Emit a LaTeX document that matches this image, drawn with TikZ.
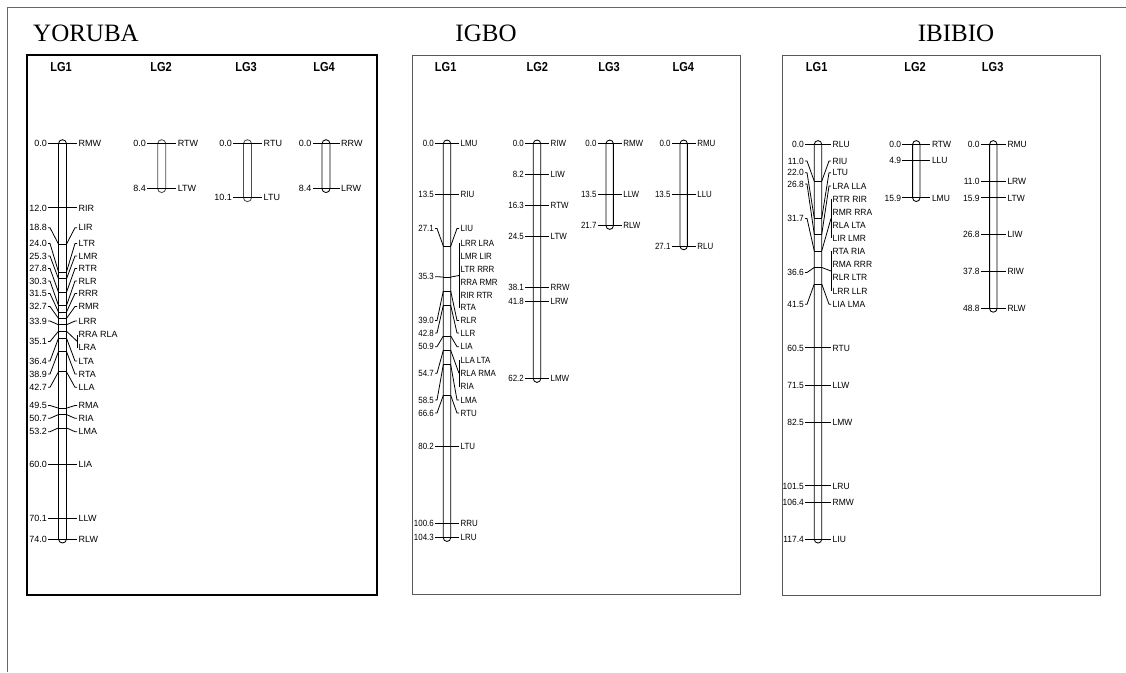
\documentclass[tikz,border=0pt]{standalone}
\usepackage{fontspec}
\setmainfont{Liberation Serif}
\newfontfamily\yfont{Liberation Sans}
\newfontfamily\igfont[FakeStretch=0.88]{Liberation Sans}
\newfontfamily\ibfont[FakeStretch=0.94]{Liberation Sans}
\newfontfamily\lgfont[FakeStretch=0.85]{Liberation Sans}
\newcounter{nd}
\newcommand\Cset[5]{\def\Ccx{#1}\def\Cyz{#2}\def\Csc{#3}\def\Chw{#4}\def\Ctl{#5}}
\newcommand\Cbar[2][black]{%
  \pgfmathsetmacro\ya{\Cyz-\Chw}\pgfmathsetmacro\yc{\Cyz+\Csc*#2+\Chw}%
  \draw[#1,line width=0.85pt,rounded corners=\Chw pt] ({\Ccx-\Chw},\ya) rectangle ({\Ccx+\Chw},\yc);}
\newcommand\Mk[5]{%
  \pgfmathsetmacro\yb{\Cyz+\Csc*#1}%
  \draw[cn] ({\Ccx-\Chw},\yb) -- ({\Ccx+\Chw},\yb);
  \draw[cn] ({\Ccx-\Chw},\yb) -- ({\Ccx-\Ctl+2},#2) -- ({\Ccx-\Ctl},#2);
  \draw[cn] ({\Ccx+\Chw},\yb) -- ({\Ccx+\Ctl-2},#4) -- ({\Ccx+\Ctl},#4);
  \stepcounter{nd}\node[lab,anchor=east] (n\thend) at ({\Ccx-\Ctl-1},#2) {#3};
  \stepcounter{nd}\node[lab,anchor=west] (n\thend) at ({\Ccx+\Ctl+1.5},#4) {#5};}
\newcommand\Sm[3]{\pgfmathsetmacro\ys{\Cyz+\Csc*#1}\Mk{#1}{\ys}{#2}{\ys}{#3}}
\newcommand\Bk[6]{%
  \pgfmathsetmacro\yb{\Cyz+\Csc*#1}\pgfmathsetmacro\ym{(#4+#5)/2}%
  \draw[cn] ({\Ccx-\Chw},\yb) -- ({\Ccx+\Chw},\yb);
  \draw[cn] ({\Ccx-\Chw},\yb) -- ({\Ccx-\Ctl+2},#2) -- ({\Ccx-\Ctl},#2);
  \draw[cn] ({\Ccx+\Chw},\yb) -- ({\Ccx+\Ctl},\ym);
  \draw[cn] ({\Ccx+\Ctl},#4) -- ({\Ccx+\Ctl},#5);
  \stepcounter{nd}\node[lab,anchor=east] (n\thend) at ({\Ccx-\Ctl-1},#2) {#3};
  \foreach \yy/\ww in {#6} {\stepcounter{nd}\node[lab,anchor=west] (n\thend) at ({\Ccx+\Ctl+1.5},\yy) {\ww};}}
\begin{document}
\begin{tikzpicture}[x=1pt,y=-1pt,
  cn/.style={line width=0.8pt},
  lab/.style={inner sep=0pt,text height=6.4pt,text depth=0pt,font=\curfont},
  ttl/.style={inner sep=0pt,anchor=base,font=\fontsize{25}{25}\selectfont},
  lg/.style={inner sep=0pt,anchor=base,font=\lgfont\bfseries\fontsize{13}{13}\selectfont},
  panel/.style={draw=black!65,line width=0.8pt}]
\useasboundingbox (0,0) rectangle (1126,672);
\fill[white] (0,0) rectangle (1126,672);
\draw[black!60,line width=0.9pt] (7,672) -- (7,7) -- (1126,7);
% titles
\node[ttl,anchor=base west] (tY) at (33,41) {YORUBA};
\node[ttl] (tG) at (486,41) {IGBO};
\node[ttl] (tB) at (956,41.5) {IBIBIO};
% panels
\draw[black,line width=1.8pt] (27,55) rectangle (376.7,595);
\draw[panel] (412.7,55.3) rectangle (740,594);
\draw[panel] (782.7,55) rectangle (1100,595.3);
% LG labels
\node[lg] (yl1) at (61,71) {LG1};
\node[lg] (yl2) at (161,71) {LG2};
\node[lg] (yl3) at (246,71) {LG3};
\node[lg] (yl4) at (324,71) {LG4};
\node[lg] (gl1) at (445.7,71) {LG1};
\node[lg] (gl2) at (537.3,71) {LG2};
\node[lg] (gl3) at (609,71) {LG3};
\node[lg] (gl4) at (683.3,71) {LG4};
\node[lg] (bl1) at (816.7,71) {LG1};
\node[lg] (bl2) at (915,71) {LG2};
\node[lg] (bl3) at (992.7,71) {LG3};
% ================= YORUBA
\def\curfont{\yfont\fontsize{9}{9}\selectfont}
\Cset{62.5}{143.7}{5.342}{4}{14.5}
\Cbar{74.0}
\Sm{0}{0.0}{RMW}
\Sm{12.0}{12.0}{RIR}
\Mk{18.8}{227.7}{18.8}{227.7}{LIR}
\Mk{24.0}{243.5}{24.0}{243.5}{LTR}
\Mk{25.3}{256}{25.3}{256}{LMR}
\Mk{27.8}{268.5}{27.8}{268.5}{RTR}
\Mk{30.3}{281}{30.3}{281}{RLR}
\Mk{31.5}{293.5}{31.5}{293.5}{RRR}
\Mk{32.7}{306.5}{32.7}{306.5}{RMR}
\Mk{33.9}{321}{33.9}{321}{LRR}
\Bk{35.1}{341.5}{35.1}{334.7}{347.7}{334.7/RRA RLA,347.7/LRA}
\Mk{36.4}{361}{36.4}{361}{LTA}
\Mk{38.9}{374}{38.9}{374}{RTA}
\Mk{42.7}{387.3}{42.7}{387.3}{LLA}
\Mk{49.5}{405.5}{49.5}{405.5}{RMA}
\Mk{50.7}{418.3}{50.7}{418.3}{RIA}
\Mk{53.2}{431.7}{53.2}{431.7}{LMA}
\Sm{60.0}{60.0}{LIA}
\Sm{70.1}{70.1}{LLW}
\Sm{74.0}{74.0}{RLW}
\Cset{161.7}{143.7}{5.342}{4}{14.5}
\Cbar[black!70]{8.4}
\Sm{0}{0.0}{RTW}
\Sm{8.4}{8.4}{LTW}
\Cset{247.5}{143.7}{5.342}{4}{14.5}
\Cbar[black!70]{10.1}
\Sm{0}{0.0}{RTU}
\Sm{10.1}{10.1}{LTU}
\Cset{326}{143.7}{5.342}{4}{13.5}
\Cbar{8.4}
\Sm{0}{0.0}{RRW}
\Sm{8.4}{8.4}{LRW}
% ================= IGBO
\def\curfont{\igfont\fontsize{9}{9}\selectfont}
\Cset{447}{143.7}{3.778}{3.7}{12}
\Cbar{104.3}
\Sm{0}{0.0}{LMU}
\Sm{13.5}{13.5}{RIU}
\Mk{27.1}{228.5}{27.1}{228.5}{LIU}
\Bk{35.3}{276.7}{35.3}{243.3}{307.7}{243.3/LRR LRA,256/LMR LIR,269/LTR RRR,282.3/RRA RMR,295/RIR RTR,307.7/RTA}
\Mk{39.0}{320.5}{39.0}{320.5}{RLR}
\Mk{42.8}{333}{42.8}{333}{LLR}
\Mk{50.9}{346.7}{50.9}{346.7}{LIA}
\Bk{54.7}{373.3}{54.7}{360}{386.7}{360/LLA LTA,373.3/RLA RMA,386.7/RIA}
\Mk{58.5}{400}{58.5}{400}{LMA}
\Mk{66.6}{413}{66.6}{413}{RTU}
\Sm{80.2}{80.2}{LTU}
\Sm{100.6}{100.6}{RRU}
\Sm{104.3}{104.3}{LRU}
\Cset{537}{143.7}{3.778}{3.7}{12}
\Cbar{62.2}
\Sm{0}{0.0}{RIW}
\Sm{8.2}{8.2}{LIW}
\Sm{16.3}{16.3}{RTW}
\Sm{24.5}{24.5}{LTW}
\Sm{38.1}{38.1}{RRW}
\Sm{41.8}{41.8}{LRW}
\Sm{62.2}{62.2}{LMW}
\Cset{609.7}{143.7}{3.778}{3.7}{12}
\Cbar{21.7}
\Sm{0}{0.0}{RMW}
\Sm{13.5}{13.5}{LLW}
\Sm{21.7}{21.7}{RLW}
\Cset{683.7}{143.7}{3.778}{3.7}{12}
\Cbar{27.1}
\Sm{0}{0.0}{RMU}
\Sm{13.5}{13.5}{LLU}
\Sm{27.1}{27.1}{RLU}
% ================= IBIBIO
\def\curfont{\ibfont\fontsize{9}{9}\selectfont}
\Cset{818}{144.3}{3.365}{3.7}{13}
\Cbar{117.4}
\Sm{0}{0.0}{RLU}
\Mk{11.0}{161}{11.0}{161}{RIU}
\Mk{22.0}{172.7}{22.0}{172.7}{LTU}
\Mk{26.8}{184}{26.8}{186}{LRA LLA}
\Bk{31.7}{218.5}{31.7}{199}{238}{199/RTR RIR,212/RMR RRA,225/RLA LTA,238/LIR LMR}
\Bk{36.6}{272.5}{36.6}{251}{291}{251/RTA RIA,264.3/RMA RRR,277.7/RLR LTR,291/LRR LLR}
\Mk{41.5}{304.2}{41.5}{304.2}{LIA LMA}
\Sm{60.5}{60.5}{RTU}
\Sm{71.5}{71.5}{LLW}
\Sm{82.5}{82.5}{LMW}
\Sm{101.5}{101.5}{LRU}
\Sm{106.4}{106.4}{RMW}
\Sm{117.4}{117.4}{LIU}
\Cset{916.3}{144.3}{3.365}{3.7}{14}
\Cbar{15.9}
\Sm{0}{0.0}{RTW}
\Sm{4.9}{4.9}{LLU}
\Sm{15.9}{15.9}{LMU}
\Cset{993.3}{144.3}{3.365}{3.7}{12.5}
\Cbar{48.8}
\Sm{0}{0.0}{RMU}
\Sm{11.0}{11.0}{LRW}
\Sm{15.9}{15.9}{LTW}
\Sm{26.8}{26.8}{LIW}
\Sm{37.8}{37.8}{RIW}
\Sm{48.8}{48.8}{RLW}
\end{tikzpicture}
\end{document}
